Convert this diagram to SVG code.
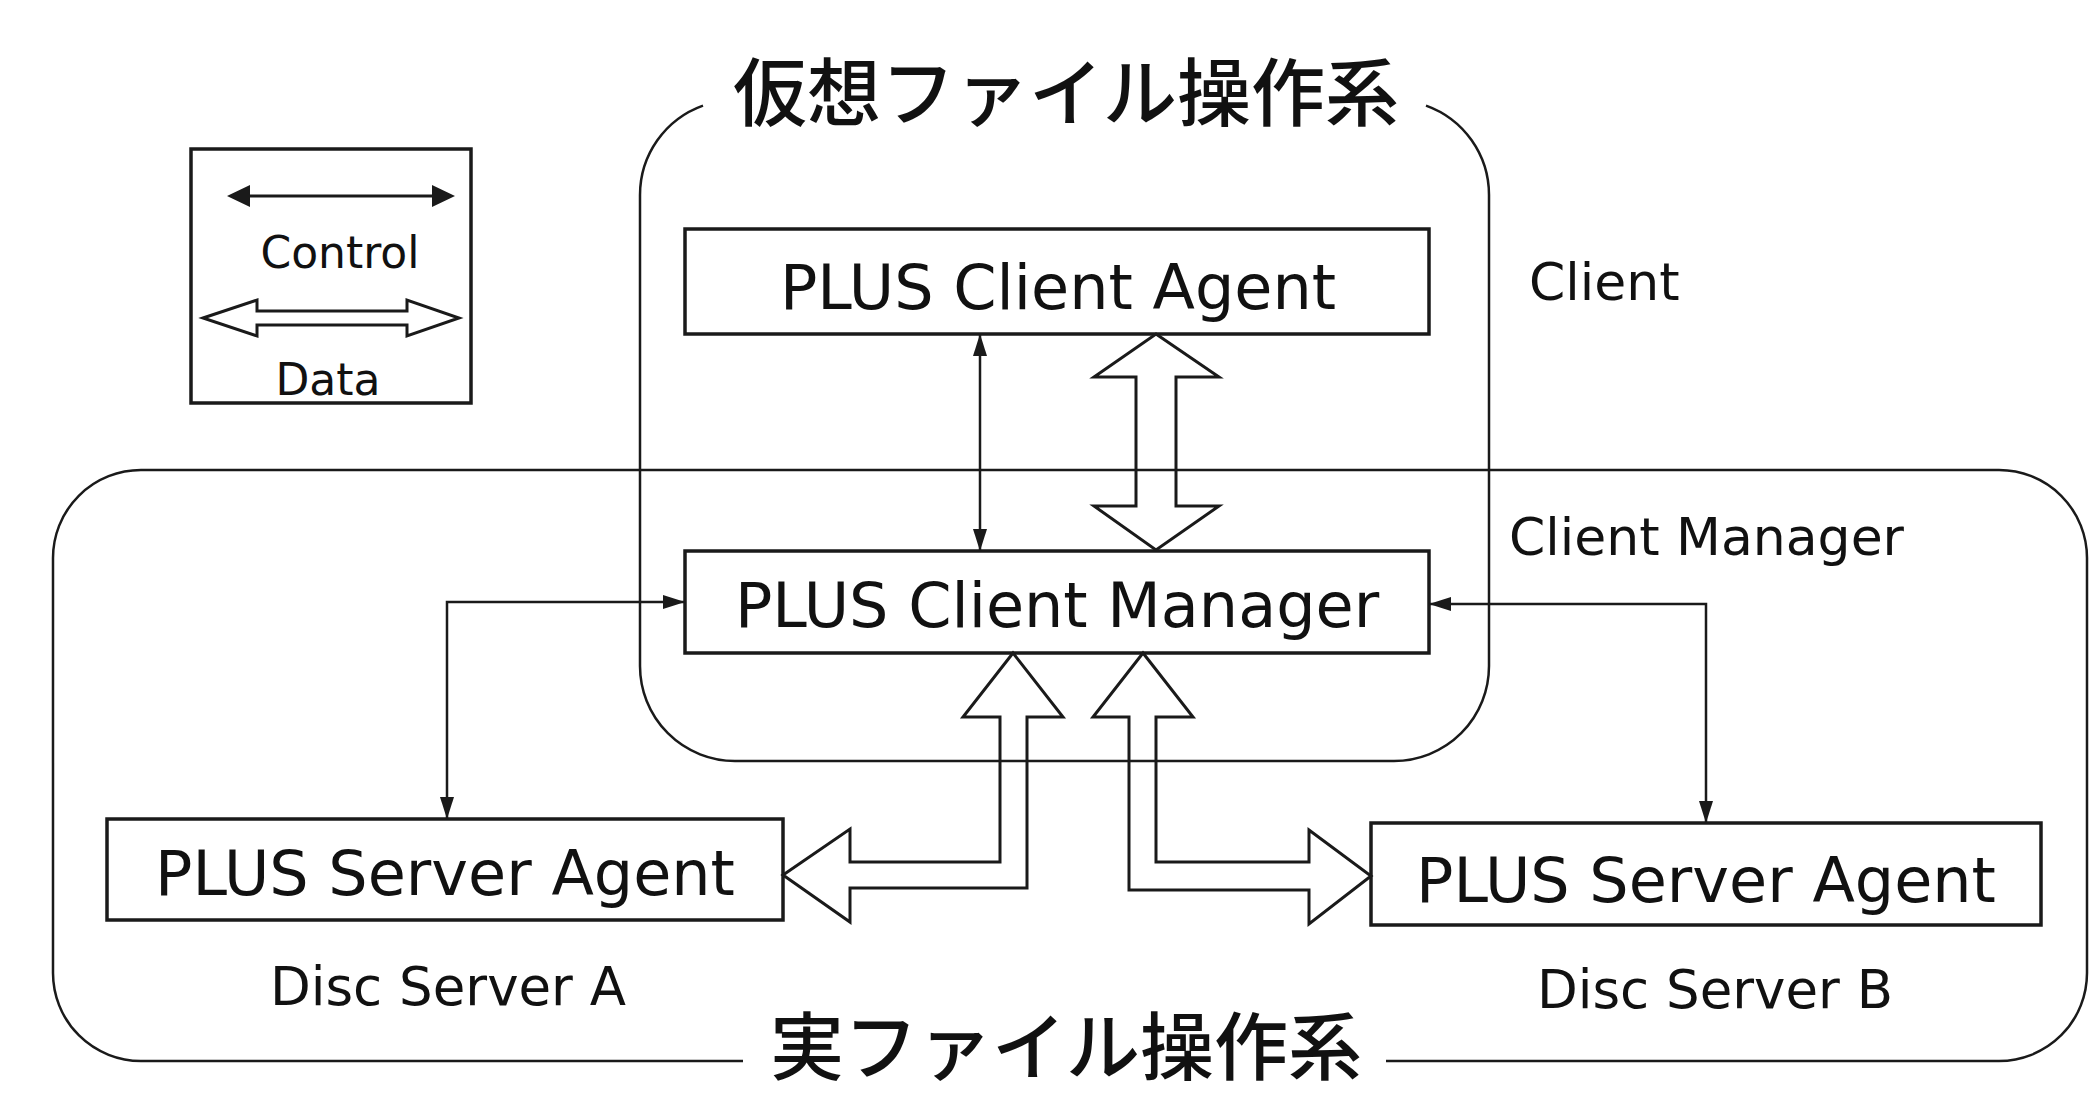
<svg xmlns="http://www.w3.org/2000/svg" width="2092" height="1094" viewBox="0 0 2092 1094">
<style>
.bg{fill:#ffffff}
.box{fill:none;stroke:#1a1a1a;stroke-width:3.5}
.grp{fill:none;stroke:#1a1a1a;stroke-width:2.5}
.ctl{fill:none;stroke:#1a1a1a;stroke-width:2.5}
.data{fill:none;stroke:#1a1a1a;stroke-width:3;stroke-linejoin:miter}
.t{font-family:"DejaVu Sans","Liberation Sans",sans-serif;fill:#111}
.jp{font-family:"Noto Sans CJK JP","Noto Sans CJK SC",sans-serif;fill:#111;font-size:74px;font-weight:500}
</style>
<defs>
<marker id="ah" markerUnits="userSpaceOnUse" markerWidth="24" markerHeight="16" refX="22" refY="7" orient="auto-start-reverse">
<path d="M0,0 L22,7 L0,14 z" fill="#1a1a1a"/>
</marker>
</defs>
<rect class="bg" x="0" y="0" width="2092" height="1094"/>

<g id="group-virtual">
<path class="grp" d="M 703,105.6 A 95 95 0 0 0 640,195 L 640,666 A 95 95 0 0 0 735,761 L 1394,761 A 95 95 0 0 0 1489,666 L 1489,195 A 95 95 0 0 0 1426,105.6"/>
<text class="jp" x="1066" y="120" text-anchor="middle">仮想ファイル操作系</text>
</g>

<g id="group-real">
<path class="grp" d="M 743,1061 L 141,1061 A 88 88 0 0 1 53,973 L 53,558 A 88 88 0 0 1 141,470 L 1999,470 A 88 88 0 0 1 2087,558 L 2087,973 A 88 88 0 0 1 1999,1061 L 1386,1061"/>
<text class="jp" x="1066" y="1074" text-anchor="middle">実ファイル操作系</text>
</g>

<g id="legend">
<rect class="box" x="191" y="149" width="280" height="254"/>
<line x1="245" y1="196" x2="437" y2="196" stroke="#1a1a1a" stroke-width="3"/>
<path d="M227,196 L250,185 L250,207 z M455,196 L432,185 L432,207 z" fill="#1a1a1a"/>
<text class="t" x="340" y="268" font-size="44" text-anchor="middle">Control</text>
<polygon class="data" points="203,318 257,300 257,311 407,311 407,300 459,318 407,336 407,325 257,325 257,336"/>
<text class="t" x="328" y="395" font-size="44" text-anchor="middle">Data</text>
</g>

<g id="client-agent">
<rect class="box" x="685" y="229" width="744" height="105"/>
<text class="t" x="1058" y="309" font-size="62" text-anchor="middle">PLUS Client Agent</text>
</g>

<g id="client-manager">
<rect class="box" x="685" y="551" width="744" height="102"/>
<text class="t" x="1057" y="627" font-size="62" text-anchor="middle">PLUS Client Manager</text>
</g>

<g id="server-agent-a">
<rect class="box" x="107" y="819" width="676" height="101"/>
<text class="t" x="445" y="895" font-size="62" text-anchor="middle">PLUS Server Agent</text>
</g>

<g id="server-agent-b">
<rect class="box" x="1371" y="823" width="670" height="102"/>
<text class="t" x="1706" y="902" font-size="62" text-anchor="middle">PLUS Server Agent</text>
</g>

<g id="labels">
<text class="t" x="1529" y="300" font-size="52">Client</text>
<text class="t" x="1509" y="555" font-size="52">Client Manager</text>
<text class="t" x="448" y="1005" font-size="53" text-anchor="middle">Disc Server A</text>
<text class="t" x="1715" y="1008" font-size="53" text-anchor="middle">Disc Server B</text>
</g>

<g id="connectors">
<path class="ctl" d="M 980,334 L 980,551" marker-start="url(#ah)" marker-end="url(#ah)"/>
<path class="ctl" d="M 685,602 L 447,602 L 447,819" marker-start="url(#ah)" marker-end="url(#ah)"/>
<path class="ctl" d="M 1429,604 L 1706,604 L 1706,823" marker-start="url(#ah)" marker-end="url(#ah)"/>
<polygon class="data" points="1156,334 1219,377 1176,377 1176,506 1219,506 1156,550 1094,506 1136,506 1136,377 1094,377"/>
<polygon class="data" points="1013,653 1063,717 1027,717 1027,888 850,888 850,922 783,875 850,829 850,862 1000,862 1000,717 963,717"/>
<polygon class="data" points="1143,653 1193,717 1156,717 1156,862 1309,862 1309,830 1371,876 1309,924 1309,890 1129,890 1129,717 1093,717"/>
</g>
</svg>
